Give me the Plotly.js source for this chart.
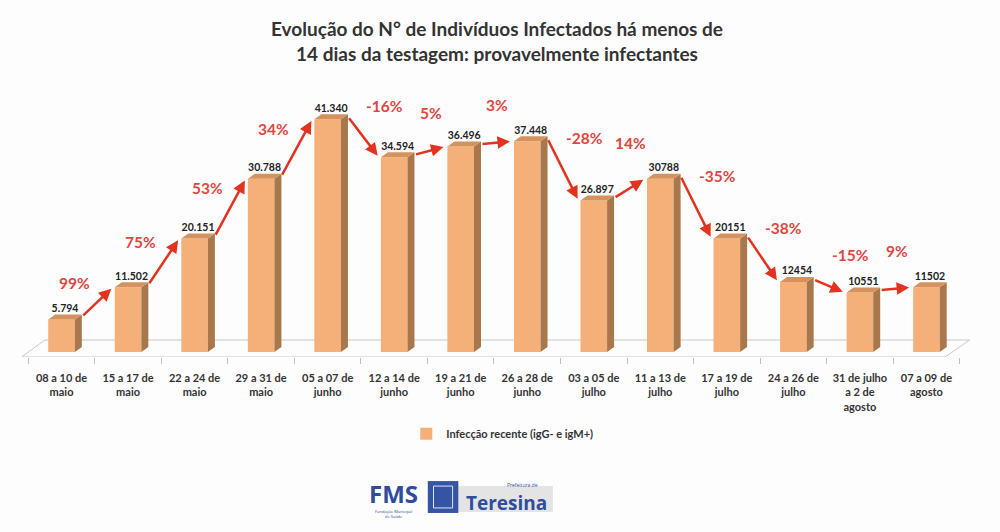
<!DOCTYPE html>
<html>
<head>
<meta charset="utf-8">
<script src="https://cdn.plot.ly/plotly-3.0.1.min.js"></script>
<style>
  html, body { margin: 0; padding: 0; background: #fdfdfd; }
  #chart { width: 1000px; height: 532px; }
</style>
</head>
<body>
<div id="chart"></div>
<script>
let periods = [
  '08 a 10 de<br>maio', '15 a 17 de<br>maio', '22 a 24 de<br>maio', '29 a 31 de<br>maio',
  '05 a 07 de<br>junho', '12 a 14 de<br>junho', '19 a 21 de<br>junho', '26 a 28 de<br>junho',
  '03 a 05 de<br>julho', '11 a 13 de<br>julho', '17 a 19 de<br>julho', '24 a 26 de<br>julho',
  '31 de julho<br>a 2 de<br>agosto', '07 a 09 de<br>agosto'
];
let infected = [5794, 11502, 20151, 30788, 41340, 34594, 36496, 37448, 26897, 30788, 20151, 12454, 10551, 11502];
let valueLabels = ['5.794', '11.502', '20.151', '30.788', '41.340', '34.594', '36.496', '37.448',
  '26.897', '30788', '20151', '12454', '10551', '11502'];
let changes = ['99%', '75%', '53%', '34%', '-16%', '5%', '3%', '-28%', '14%', '-35%', '-38%', '-15%', '9%'];

// fake 3d look
let hw = 0.2;     // half width of the front face
let dx = 0.105;   // depth to the right
let dy = 890;     // depth upward

let xs = infected.map(function(v, i) { return i; });

function sidePoly() {
  let px = [], py = [];
  infected.forEach(function(v, i) {
    px.push(i + hw, i + hw + dx, i + hw + dx, i + hw, i + hw, null);
    py.push(0, dy, v + dy, v, 0, null);
  });
  return {x: px, y: py};
}

function topPoly() {
  let px = [], py = [];
  infected.forEach(function(v, i) {
    px.push(i - hw, i + hw, i + hw + dx, i - hw + dx, i - hw, null);
    py.push(v, v, v + dy, v + dy, v, null);
  });
  return {x: px, y: py};
}

let sideFaces = sidePoly();
let topFaces = topPoly();

let traces = [
  {
    type: 'bar',
    x: xs,
    y: infected,
    width: 2 * hw,
    name: 'Infecção recente (igG- e igM+)',
    marker: {color: '#f5b07a', line: {width: 0}},
    hoverinfo: 'none'
  },
  {
    type: 'scatter',
    x: sideFaces.x, y: sideFaces.y,
    mode: 'lines', fill: 'toself',
    fillcolor: '#a9774c',
    line: {width: 0, color: '#a9774c'},
    showlegend: false, hoverinfo: 'none'
  },
  {
    type: 'scatter',
    x: topFaces.x, y: topFaces.y,
    mode: 'lines', fill: 'toself',
    fillcolor: '#d4935e',
    line: {width: 0, color: '#d4935e'},
    showlegend: false, hoverinfo: 'none'
  },
  {
    type: 'scatter',
    x: xs.map(function(i) { return i + dx / 2; }),
    y: infected.map(function(v) { return v + dy; }),
    mode: 'text',
    text: valueLabels,
    textposition: 'top center',
    textfont: {family: 'Lato', size: 10.5, color: '#222', weight: 'bold'},
    showlegend: false, hoverinfo: 'none'
  }
];

let annotations = [];
for(let i = 0; i < changes.length; i++) {
  let v0 = infected[i], v1 = infected[i + 1];
  annotations.push({
    x: i + 1 - hw - 0.03, y: v1,
    ax: i + hw + dx, ay: v0 + dy / 2,
    xref: 'x', yref: 'y', axref: 'x', ayref: 'y',
    showarrow: true, arrowhead: 2, arrowsize: 1, arrowwidth: 2.5,
    arrowcolor: '#e3321f', standoff: 2, text: ''
  });
  // label sits left-up of rising arrows, right-up of falling ones
  let rel = (v1 - v0) / v0;
  let sx = 0, sy = 36;
  if(rel > 0.2) { sx = -24; sy = 18; }
  else if(rel > 0.1) { sx = 0; sy = 44; }
  if(rel < -0.1) { sx = 20; sy = 30; }
  annotations.push({
    x: i + 0.5 + dx / 2, y: (v0 + v1) / 2 + dy / 2,
    xref: 'x', yref: 'y', showarrow: false,
    xshift: sx, yshift: sy,
    text: changes[i],
    font: {family: 'Lato', size: 15.5, color: '#e2453f', weight: 'bold'}
  });
}

// logo at the bottom
annotations.push(
  {xref: 'paper', yref: 'paper', x: 0.391, y: -0.491, showarrow: false, xanchor: 'center', yanchor: 'middle',
    text: '<b>FMS</b>', font: {family: 'Open Sans', size: 24, color: '#2f4d9c'}},
  {xref: 'paper', yref: 'paper', x: 0.391, y: -0.565, showarrow: false, xanchor: 'center', yanchor: 'middle',
    text: 'Fundação Municipal<br>de Saúde', font: {family: 'Open Sans', size: 4, color: '#2f4d9c'}},
  {xref: 'paper', yref: 'paper', x: 0.509, y: -0.528, showarrow: false, xanchor: 'center', yanchor: 'middle',
    text: '<b>Teresina</b>', font: {family: 'Open Sans', size: 19, color: '#2f4d9c'}},
  {xref: 'paper', yref: 'paper', x: 0.526, y: -0.462, showarrow: false, xanchor: 'center', yanchor: 'middle',
    text: 'Prefeitura de', font: {family: 'Open Sans', size: 5, color: '#2f4d9c'}}
);

let shapes = [
  // floor of the 3d plot
  {type: 'path', xref: 'x', yref: 'y', layer: 'below',
    path: 'M -0.6,-890 L 13.28,-890 L 13.65,2130 L -0.25,2130 Z',
    line: {color: '#c8c8c8', width: 1}, fillcolor: 'rgba(0,0,0,0)'},
  // logo boxes
  {type: 'rect', xref: 'paper', yref: 'paper', x0: 0.459, x1: 0.558, y0: -0.56, y1: -0.466,
    fillcolor: '#e4e4e4', line: {width: 0}, layer: 'below'},
  {type: 'rect', xref: 'paper', yref: 'paper', x0: 0.427, x1: 0.459, y0: -0.563, y1: -0.448,
    fillcolor: '#3554a6', line: {width: 0}},
  {type: 'rect', xref: 'paper', yref: 'paper', x0: 0.433, x1: 0.453, y0: -0.545, y1: -0.466,
    fillcolor: 'rgba(0,0,0,0)', line: {width: 1, color: '#dfe5f5'}}
];

let layout = {
  width: 1000,
  height: 532,
  paper_bgcolor: '#fdfdfd',
  plot_bgcolor: 'rgba(0,0,0,0)',
  margin: {l: 20, r: 25, t: 80, b: 175},
  title: {
    text: 'Evolução do N° de Indivíduos Infectados há menos de<br>14 dias da testagem: provavelmente infectantes',
    font: {family: 'Lato', size: 19, color: '#333', weight: 'bold'},
    x: 0.497, xanchor: 'center', y: 0.932, yanchor: 'top', yref: 'container'
  },
  xaxis: {
    range: [-0.624, 13.73],
    tickmode: 'array',
    tickvals: xs,
    ticktext: periods,
    ticks: '',
    showgrid: false,
    zeroline: false,
    showline: false,
    ticklabelstandoff: 13,
    tickfont: {family: 'Lato', size: 11, color: '#333', weight: 'bold'},
    minor: {tickmode: 'linear', tick0: -0.5, dtick: 1, ticks: 'outside', ticklen: 6, tickcolor: '#c0c0c0', showgrid: false}
  },
  yaxis: {
    range: [-890, 48330],
    visible: false,
    showgrid: false,
    zeroline: false
  },
  showlegend: true,
  legend: {
    orientation: 'h',
    x: 0.505, xanchor: 'center',
    y: -0.225, yanchor: 'top',
    font: {family: 'Lato', size: 11, color: '#333', weight: 'bold'},
    itemwidth: 30
  },
  annotations: annotations,
  shapes: shapes
};

Plotly.newPlot('chart', traces, layout, {displayModeBar: false, staticPlot: true});
</script>
</body>
</html>
